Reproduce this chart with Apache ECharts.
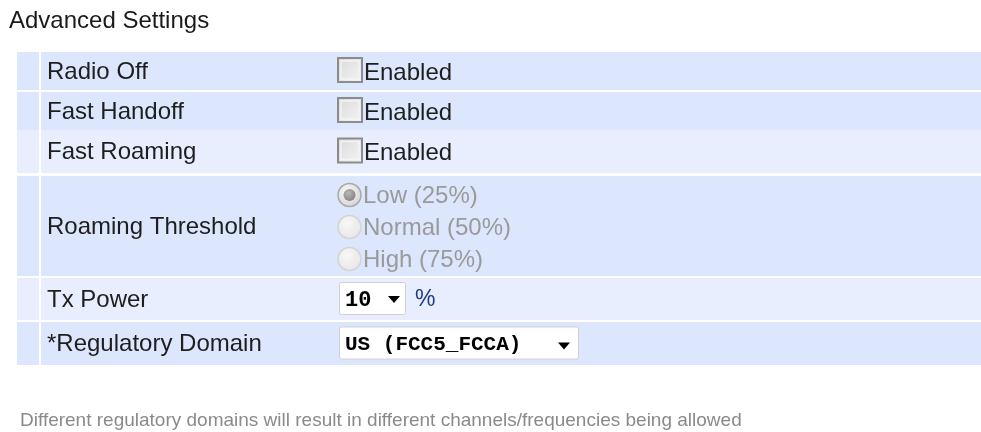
<!DOCTYPE html>
<html lang="en">
<head>
    <meta charset="UTF-8">
    <title>Advanced Settings</title>
    <script src="https://cdn.jsdelivr.net/npm/echarts@6/dist/echarts.min.js"></script>
    <style>
        html, body { margin: 0; padding: 0; background: #fff; }
    </style>
</head>
<body>
<div id="main" style="width: 981px;height:432px;"></div>

<script type="text/javascript">
    // form rows (label column) and what sits in the value column
    var rowLabels = ['Radio Off', 'Fast Handoff', 'Fast Roaming', 'Roaming Threshold', 'Tx Power', '*Regulatory Domain'];
    var rowKinds = ['checkbox', 'checkbox', 'checkbox', 'radio', 'percent', 'select'];
    var rowShade = ['dark', 'dark', 'light', 'dark', 'light', 'dark'];
    var checkboxText = 'Enabled';
    var thresholdOptions = ['Low (25%)', 'Normal (50%)', 'High (75%)'];
    var thresholdSelected = 0;
    var txPowerValue = '10';
    var domainValue = 'US (FCC5_FCCA)';
    var titleText = 'Advanced Settings';
    var noteText = 'Different regulatory domains will result in different channels/frequencies being allowed';

    // layout: row top / bottom on the page axis
    var rowTop = [52, 92, 130, 176, 278, 322];
    var rowBottom = [90, 130, 173, 276, 320, 365];

    var shadeColor = { dark: '#dce6fd', light: '#e8eefd' };
    var labelFont = 'Liberation Sans';

    function renderRow(params, api) {
        var i = api.value(0);
        var tl = api.coord([17, rowTop[i]]);
        var br = api.coord([981, rowBottom[i]]);
        var cy = (tl[1] + br[1]) / 2;
        var fill = shadeColor[rowShade[i]];
        var kids = [
            { type: 'rect', shape: { x: tl[0], y: tl[1], width: 22, height: br[1] - tl[1] }, style: { fill: fill } },
            { type: 'rect', shape: { x: tl[0] + 24, y: tl[1], width: br[0] - tl[0] - 24, height: br[1] - tl[1] }, style: { fill: fill } },
            { type: 'text', style: { text: rowLabels[i], x: 47, y: cy + 1, verticalAlign: 'middle', fontSize: 24, fontFamily: labelFont, fill: '#1e1e1e' } }
        ];
        var kind = rowKinds[i];
        if (kind === 'checkbox') {
            kids.push({ type: 'rect', shape: { x: 338, y: cy - 13, width: 24, height: 24 },
                style: { fill: new echarts.graphic.LinearGradient(0, 0, 1, 1, [{ offset: 0, color: '#d8d8d8' }, { offset: 1, color: '#f6f6f6' }]), stroke: '#8c8c8c', lineWidth: 2 } });
            kids.push({ type: 'rect', shape: { x: 341, y: cy - 10, width: 18, height: 18 },
                style: { fill: 'none', stroke: '#f4f4f4', lineWidth: 1.5 } });
            kids.push({ type: 'text', style: { text: checkboxText, x: 364, y: cy + 2, verticalAlign: 'middle', fontSize: 24, fontFamily: labelFont, fill: '#1e1e1e' } });
        } else if (kind === 'radio') {
            thresholdOptions.forEach(function (opt, k) {
                var oy = tl[1] + 19 + k * 32;
                var on = k === thresholdSelected;
                kids.push({ type: 'circle', shape: { cx: 349.5, cy: oy, r: 11.5 },
                    style: { fill: new echarts.graphic.RadialGradient(0.4, 0.35, 0.8, [{ offset: 0, color: '#f8f8f8' }, { offset: 1, color: on ? '#cfcfcf' : '#e2e2e2' }]), stroke: on ? '#a8a8a8' : '#d4d4d4', lineWidth: 1.5 } });
                if (on) {
                    kids.push({ type: 'circle', shape: { cx: 349.5, cy: oy, r: 6 },
                        style: { fill: new echarts.graphic.RadialGradient(0.4, 0.35, 0.8, [{ offset: 0, color: '#b8b8b8' }, { offset: 1, color: '#7c7c7c' }]) } });
                }
                kids.push({ type: 'text', style: { text: opt, x: 363, y: oy + 1, verticalAlign: 'middle', fontSize: 24, fontFamily: labelFont, fill: '#9a9a9a' } });
            });
        } else if (kind === 'percent') {
            kids.push({ type: 'rect', shape: { x: 339.5, y: cy - 16.5, width: 66, height: 32, r: 2 }, style: { fill: '#fff', stroke: '#d0d0d0', lineWidth: 1 } });
            kids.push({ type: 'text', style: { text: txPowerValue, x: 345, y: cy + 1, verticalAlign: 'middle', fontSize: 22, fontWeight: 'bold', fontFamily: 'Liberation Mono', fill: '#000' } });
            kids.push({ type: 'polygon', shape: { points: [[388, cy - 3], [400, cy - 3], [394, cy + 4]] }, style: { fill: '#000' } });
            kids.push({ type: 'text', style: { text: '%', x: 415, y: cy + 1, verticalAlign: 'middle', fontSize: 23, fontFamily: labelFont, fill: '#1d3a86' } });
        } else if (kind === 'select') {
            kids.push({ type: 'rect', shape: { x: 339.5, y: cy - 16.5, width: 239, height: 32, r: 2 }, style: { fill: '#fff', stroke: '#d0d0d0', lineWidth: 1 } });
            kids.push({ type: 'text', style: { text: domainValue, x: 345, y: cy + 1, verticalAlign: 'middle', fontSize: 21, fontWeight: 'bold', fontFamily: 'Liberation Mono', fill: '#000' } });
            kids.push({ type: 'polygon', shape: { points: [[558, cy - 1], [570, cy - 1], [564, cy + 6]] }, style: { fill: '#000' } });
        }
        return { type: 'group', children: kids };
    }

    var myChart = echarts.init(document.getElementById('main'));

    var option = {
        animation: false,
        title: [
            {
                text: titleText, left: 9, top: 9, padding: 0,
                textStyle: { fontSize: 24, fontWeight: 'normal', color: '#1a1a1a', fontFamily: labelFont }
            },
            {
                text: noteText, left: 20, top: 411, padding: 0,
                textStyle: { fontSize: 19, fontWeight: 'normal', color: '#8a8a8a', fontFamily: labelFont }
            }
        ],
        grid: { left: 0, right: 0, top: 0, bottom: 0 },
        xAxis: { type: 'value', min: 0, max: 981, show: false },
        yAxis: { type: 'value', min: 0, max: 432, inverse: true, show: false },
        series: [
            {
                type: 'custom',
                renderItem: renderRow,
                data: rowLabels.map(function (l, i) { return [i]; }),
                silent: true
            }
        ]
    };
    myChart.setOption(option);
</script>
</body>
</html>
